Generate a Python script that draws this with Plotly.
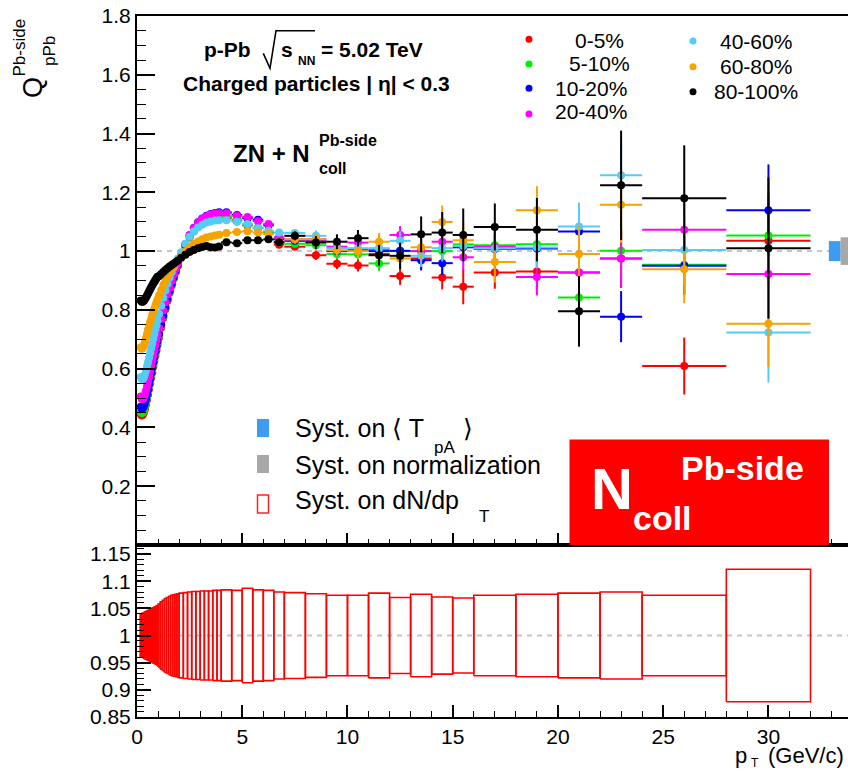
import plotly.graph_objects as go

# ---------------- data ----------------
pt_edges = [0.15, 0.2, 0.25, 0.3, 0.35, 0.4, 0.45, 0.5, 0.55, 0.6, 0.65, 0.7, 0.75, 0.8, 0.85, 0.9, 0.95, 1.0,
            1.1, 1.2, 1.3, 1.4, 1.5, 1.6, 1.7, 1.8, 1.9, 2.0,
            2.2, 2.4, 2.6, 2.8, 3.0, 3.2, 3.4, 3.6, 3.8, 4.0,
            4.5, 5.0, 5.5, 6.0, 6.5, 7.0,
            8.0, 9.0, 10.0, 11.0, 12.0, 13.0, 14.0, 15.0, 16.0,
            18.0, 20.0, 22.0, 24.0, 28.0, 32.0]

centralities = ["0-5%", "5-10%", "10-20%", "20-40%", "40-60%", "60-80%", "80-100%"]
colors = ["#ff0000", "#00ee00", "#0000ff", "#ff00ff", "#55ccf5", "#f5a300", "#000000"]

q_0_5 = [0.445, 0.441, 0.443, 0.450, 0.462, 0.477, 0.494, 0.512, 0.531, 0.550, 0.569, 0.588, 0.607, 0.626, 0.645, 0.663, 0.681,
         0.707, 0.740, 0.772, 0.802, 0.831, 0.858, 0.883, 0.907, 0.929, 0.950,
         0.980, 1.016, 1.046, 1.068, 1.084, 1.095, 1.103, 1.108, 1.111, 1.112,
         1.113, 1.102, 1.088, 1.078, 1.064, 1.022,
         1.015, 0.986, 0.957, 0.951, 0.990, 0.915, 0.975, 0.910, 0.879,
         0.927, 0.931, 0.927, 0.975, 0.609, 1.035]
q_5_10 = [0.453, 0.449, 0.451, 0.458, 0.470, 0.485, 0.502, 0.520, 0.539, 0.558, 0.577, 0.596, 0.615, 0.634, 0.652, 0.670, 0.688,
          0.713, 0.746, 0.777, 0.807, 0.835, 0.862, 0.887, 0.910, 0.932, 0.953,
          0.983, 1.019, 1.049, 1.072, 1.089, 1.101, 1.109, 1.114, 1.117, 1.118,
          1.118, 1.108, 1.092, 1.080, 1.066, 1.030,
          1.025, 1.020, 0.990, 0.989, 0.958, 1.000, 1.000, 1.000, 1.023,
          1.020, 1.023, 0.842, 1.001, 0.954, 1.053]
q_10_20 = [0.470, 0.464, 0.465, 0.471, 0.482, 0.496, 0.512, 0.529, 0.547, 0.565, 0.584, 0.603, 0.621, 0.640, 0.658, 0.676, 0.693,
           0.718, 0.750, 0.781, 0.810, 0.838, 0.864, 0.889, 0.912, 0.934, 0.955,
           0.985, 1.022, 1.054, 1.079, 1.098, 1.111, 1.120, 1.126, 1.130, 1.132,
           1.132, 1.123, 1.112, 1.107, 1.088, 1.040,
           1.035, 1.035, 1.000, 1.003, 1.000, 1.001, 0.969, 0.959, 1.013,
           1.007, 1.009, 1.067, 0.777, 0.950, 1.139]
q_20_40 = [0.505, 0.497, 0.497, 0.502, 0.512, 0.525, 0.540, 0.556, 0.573, 0.591, 0.609, 0.627, 0.645, 0.663, 0.680, 0.697, 0.714,
           0.738, 0.769, 0.798, 0.826, 0.852, 0.876, 0.899, 0.920, 0.940, 0.959,
           0.988, 1.024, 1.055, 1.079, 1.097, 1.110, 1.119, 1.125, 1.128, 1.129,
           1.129, 1.120, 1.116, 1.102, 1.092, 1.047,
           1.040, 1.040, 1.015, 1.029, 1.007, 1.055, 1.000, 1.032, 0.979,
           1.015, 0.912, 0.927, 0.975, 1.073, 0.922]
q_40_60 = [0.572, 0.565, 0.565, 0.570, 0.580, 0.593, 0.607, 0.622, 0.638, 0.654, 0.670, 0.686, 0.702, 0.718, 0.734, 0.749, 0.764,
           0.786, 0.814, 0.841, 0.866, 0.889, 0.910, 0.929, 0.946, 0.961, 0.975,
           0.996, 1.025, 1.049, 1.067, 1.080, 1.090, 1.097, 1.101, 1.104, 1.105,
           1.105, 1.100, 1.092, 1.078, 1.069, 1.063,
           1.062, 1.052, 1.010, 1.010, 1.010, 1.035, 0.984, 1.010, 1.017,
           1.009, 1.012, 1.084, 1.258, 1.004, 0.723]
q_60_80 = [0.673, 0.668, 0.670, 0.678, 0.690, 0.704, 0.718, 0.732, 0.745, 0.758, 0.770, 0.782, 0.793, 0.804, 0.815, 0.825, 0.835,
           0.850, 0.868, 0.885, 0.900, 0.914, 0.927, 0.939, 0.950, 0.960, 0.969,
           0.982, 0.998, 1.012, 1.024, 1.033, 1.040, 1.046, 1.050, 1.053, 1.056,
           1.062, 1.065, 1.068, 1.063, 1.058, 1.032,
           1.040, 1.040, 1.003, 1.000, 1.032, 0.975, 1.013, 1.099, 1.037,
           0.963, 1.139, 0.990, 1.158, 0.938, 0.753]
q_80_100 = [0.832, 0.828, 0.828, 0.831, 0.836, 0.842, 0.849, 0.856, 0.863, 0.870, 0.877, 0.884, 0.890, 0.896, 0.902, 0.908, 0.913,
            0.915, 0.922, 0.929, 0.936, 0.942, 0.948, 0.953, 0.958, 0.963, 0.968,
            0.977, 0.988, 0.997, 1.004, 1.010, 1.014, 1.017, 1.013, 1.012, 1.016,
            1.030, 1.027, 1.037, 1.037, 1.040, 1.030,
            1.052, 1.029, 1.032, 1.044, 0.986, 0.984, 1.057, 1.063, 1.055,
            1.082, 1.073, 0.795, 1.224, 1.180, 1.010]

# statistical errors: shared small values below 7 GeV/c, per-class above
stat_low = [0.002, 0.002, 0.002, 0.002, 0.002, 0.002, 0.002, 0.002, 0.002, 0.002, 0.002, 0.002, 0.002, 0.002, 0.002, 0.002, 0.002,
            0.002, 0.002, 0.002, 0.002, 0.002, 0.002, 0.002, 0.002, 0.002, 0.002,
            0.003, 0.003, 0.003, 0.003, 0.003, 0.004, 0.004, 0.004, 0.005, 0.005,
            0.006, 0.007, 0.008, 0.009, 0.010, 0.012]
stat_0_5 = [0.010, 0.016, 0.018, 0.020, 0.025, 0.030, 0.035, 0.040, 0.060, 0.055, 0.065, 0.080, 0.100, 0.097, 0.150]
stat_5_10 = [0.010, 0.015, 0.018, 0.020, 0.025, 0.030, 0.035, 0.040, 0.045, 0.050, 0.060, 0.080, 0.095, 0.100, 0.150]
stat_10_20 = [0.010, 0.015, 0.018, 0.020, 0.025, 0.030, 0.035, 0.040, 0.045, 0.050, 0.060, 0.080, 0.087, 0.100, 0.156]
stat_20_40 = [0.010, 0.015, 0.018, 0.020, 0.025, 0.030, 0.035, 0.040, 0.045, 0.050, 0.063, 0.080, 0.095, 0.110, 0.150]
stat_40_60 = [0.012, 0.018, 0.020, 0.022, 0.028, 0.032, 0.038, 0.045, 0.050, 0.055, 0.070, 0.081, 0.110, 0.120, 0.170]
stat_60_80 = [0.015, 0.020, 0.022, 0.025, 0.030, 0.035, 0.045, 0.056, 0.060, 0.070, 0.082, 0.100, 0.130, 0.115, 0.147]
stat_80_100 = [0.015, 0.022, 0.025, 0.028, 0.035, 0.045, 0.061, 0.070, 0.090, 0.080, 0.108, 0.120, 0.186, 0.180, 0.240]

# systematic uncertainty on dN/dpT (relative), one per bin
syst_dndpt = [0.040, 0.040, 0.041, 0.042, 0.043, 0.044, 0.045, 0.046, 0.047, 0.048, 0.049, 0.050, 0.051, 0.052, 0.053, 0.054, 0.055,
              0.058, 0.062, 0.065, 0.068, 0.070, 0.072, 0.074, 0.075, 0.076, 0.077,
              0.078, 0.079, 0.080, 0.081, 0.081, 0.082, 0.082, 0.082, 0.083, 0.083,
              0.084, 0.083, 0.087, 0.084, 0.083, 0.080,
              0.079, 0.077, 0.074, 0.074, 0.078, 0.070, 0.076, 0.071, 0.069,
              0.074, 0.076, 0.078, 0.080, 0.074, 0.122]
syst_tpa = 0.034
syst_norm = 0.047

series_values = [q_0_5, q_5_10, q_10_20, q_20_40, q_40_60, q_60_80, q_80_100]
series_stat = [stat_0_5, stat_5_10, stat_10_20, stat_20_40, stat_40_60, stat_60_80, stat_80_100]

# ---------------- geometry ----------------
W, H = 848, 773
L, R, T, B = 137, 848, 16, 717
SPLIT = 545
XMAX = 33.78


def px(x):
    return (x - L) / (R - L)


def py(y):
    return (B - y) / (B - T)


FONT = "Liberation Sans, Arial, Helvetica, sans-serif"

pt_lo = pt_edges[:-1]
pt_hi = pt_edges[1:]
pt_c = [(a + b) / 2 for a, b in zip(pt_lo, pt_hi)]
pt_hw = [(b - a) / 2 for a, b in zip(pt_lo, pt_hi)]

fig = go.Figure()

# systematic boxes (bottom panel)
bx, byv = [], []
for a, b, s in zip(pt_lo, pt_hi, syst_dndpt):
    bx += [a, b, b, a, a, None]
    byv += [1 - s, 1 - s, 1 + s, 1 + s, 1 - s, None]
fig.add_trace(go.Scatter(x=bx, y=byv, mode="lines", line=dict(color="#ff0000", width=1.6),
                         xaxis="x", yaxis="y", hoverinfo="skip", showlegend=False))

# data points (top panel)
for name, col, vals, st in zip(centralities, colors, series_values, series_stat):
    err = stat_low + st
    fig.add_trace(go.Scatter(
        x=pt_c, y=vals, mode="markers", name=name,
        marker=dict(color=col, size=8, line=dict(width=0)),
        error_y=dict(type="data", array=err, color=col, thickness=2, width=0),
        error_x=dict(type="data", array=pt_hw, color=col, thickness=2, width=0),
        xaxis="x2", yaxis="y2", showlegend=False))

shapes = []
# dashed unity lines
shapes.append(dict(type="line", xref="x2", yref="y2", x0=0, x1=XMAX, y0=1, y1=1, layer="below",
                   line=dict(color="#c4c4cc", width=2, dash="5px,5px")))
shapes.append(dict(type="line", xref="x", yref="y", x0=0, x1=XMAX, y0=1, y1=1, layer="below",
                   line=dict(color="#c4c4cc", width=2, dash="5px,5px")))
# global systematic boxes at right edge
shapes.append(dict(type="rect", xref="x2", yref="y2", x0=32.87, x1=33.43, y0=1 - syst_tpa, y1=1 + syst_tpa,
                   fillcolor="#3d9cf0", line=dict(width=0)))
shapes.append(dict(type="rect", xref="x2", yref="y2", x0=33.43, x1=XMAX + 0.2, y0=1 - syst_norm, y1=1 + syst_norm,
                   fillcolor="#a8a8a8", line=dict(width=0)))
# legend squares
shapes.append(dict(type="rect", xref="paper", yref="paper", x0=px(257), x1=px(269), y0=py(437), y1=py(419),
                   fillcolor="#3d9cf0", line=dict(width=0)))
shapes.append(dict(type="rect", xref="paper", yref="paper", x0=px(257), x1=px(269), y0=py(473), y1=py(455),
                   fillcolor="#a8a8a8", line=dict(width=0)))
shapes.append(dict(type="rect", xref="paper", yref="paper", x0=px(257.5), x1=px(268.5), y0=py(513), y1=py(495),
                   fillcolor="rgba(0,0,0,0)", line=dict(color="#ff2020", width=1.5)))
# red box
shapes.append(dict(type="rect", xref="paper", yref="paper", x0=px(569.5), x1=px(829), y0=py(545), y1=py(439.5),
                   fillcolor="#ff0000", line=dict(width=0)))
# sqrt sign
pts = [(263.3, 53.3), (270, 68.3), (276, 30.7), (315, 30.7)]
path = "M " + " L ".join(f"{px(a):.5f},{py(b):.5f}" for a, b in pts)
shapes.append(dict(type="path", xref="paper", yref="paper", path=path, line=dict(color="black", width=1.6)))
# centrality legend markers
leg_marks = [(529, 39.3), (529, 64), (529, 88.3), (529, 114), (693, 41), (693, 66.7), (693, 91.7)]
for (mx, my), col in zip(leg_marks, colors):
    shapes.append(dict(type="circle", xref="paper", yref="paper", xsizemode="pixel", ysizemode="pixel",
                       xanchor=px(mx), yanchor=py(my), x0=-3.5, x1=3.5, y0=-3.5, y1=3.5,
                       fillcolor=col, line=dict(width=0)))

ann = []


def text(t, x, y, size, xanchor="left", bold=False, color="black", angle=0):
    if bold:
        t = "<b>" + t + "</b>"
    ann.append(dict(text=t, x=px(x), y=py(y), xref="paper", yref="paper", xanchor=xanchor, yanchor="middle",
                    showarrow=False, textangle=angle, font=dict(family=FONT, size=size, color=color)))


# header texts
text("p-Pb", 201.7, 50, 21, bold=True)
text("s", 278.5, 50, 21, bold=True)
text("NN", 295.5, 60.5, 12, bold=True)
text("= 5.02 TeV", 319, 50, 21, bold=True)
text("Charged particles | η| < 0.3", 180.7, 84, 21, bold=True)
text("ZN + N", 230.5, 153, 24, bold=True)
text("Pb-side", 317, 140, 16, bold=True)
text("coll", 317, 168.5, 16, bold=True)

# centrality legend labels
leg_text = [(572.7, 40), (566.7, 63.3), (553, 88.3), (553, 111.7), (718, 41.7), (718, 66.7), (711.7, 91.7)]
for (tx, ty), name in zip(leg_text, centralities):
    text(name, tx, ty, 21)

# systematics legend
text("Syst. on ⟨ T", 293, 428, 25)
text("pA", 432, 447, 17)
text("⟩", 461, 428, 25)
text("Syst. on normalization", 293, 465, 25)
text("Syst. on dN/dp", 293, 500, 25)
text("T", 477, 516, 17)

# red box text
text("N", 589, 488, 58, bold=True, color="white")
text("coll", 631, 518, 34, bold=True, color="white")
text("Pb-side", 679, 468, 34, bold=True, color="white")

# axis titles
text("Q", 33, 88, 27, xanchor="center", angle=-90)
text("Pb-side", 19, 47.5, 17, xanchor="center", angle=-90)
text("pPb", 49, 51, 17, xanchor="center", angle=-90)
text("p", 733, 755, 22)
text("T", 749, 763, 12)
text("(GeV/c)", 766, 756, 22)

y_split = py(SPLIT)
tickfont = dict(family=FONT, size=21, color="black")

fig.update_layout(
    width=W, height=H,
    margin=dict(l=L, r=W - R, t=T, b=H - B, pad=0),
    paper_bgcolor="white", plot_bgcolor="white",
    showlegend=False,
    shapes=shapes, annotations=ann,
    xaxis=dict(domain=[0, 1], range=[0, XMAX], anchor="y",
               tickmode="array", tickvals=[0, 5, 10, 15, 20, 25, 30], ticks="inside", ticklen=12, tickwidth=1.5,
               tickcolor="black",
               minor=dict(tickmode="linear", tick0=0, dtick=1, ticks="inside", ticklen=6, tickwidth=1.2,
                          tickcolor="black"),
               showline=True, linecolor="black", linewidth=2, mirror=True,
               showgrid=False, zeroline=False, tickfont=tickfont),
    yaxis=dict(domain=[0, y_split], range=[0.85, 1.1666], anchor="x",
               tickmode="array", tickvals=[0.85, 0.9, 0.95, 1.0, 1.05, 1.1, 1.15],
               ticktext=["0.85", "0.9", "0.95", "1", "1.05", "1.1", "1.15"],
               ticks="inside", ticklen=14, tickwidth=1.5, tickcolor="black",
               minor=dict(tickmode="linear", tick0=0.85, dtick=0.01, ticks="inside", ticklen=7, tickwidth=1.2,
                          tickcolor="black"),
               showline=True, linecolor="black", linewidth=2, mirror=False,
               showgrid=False, zeroline=False, tickfont=tickfont),
    xaxis2=dict(domain=[0, 1], range=[0, XMAX], anchor="y2", matches="x", showticklabels=False,
                tickmode="array", tickvals=[0, 5, 10, 15, 20, 25, 30], ticks="inside", ticklen=12, tickwidth=1.5,
                tickcolor="black",
                minor=dict(tickmode="linear", tick0=0, dtick=1, ticks="inside", ticklen=6, tickwidth=1.2,
                           tickcolor="black"),
                showline=True, linecolor="black", linewidth=2, mirror=True,
                showgrid=False, zeroline=False),
    yaxis2=dict(domain=[y_split, 1], range=[0, 1.8], anchor="x2",
                tickmode="array", tickvals=[0.2, 0.4, 0.6, 0.8, 1.0, 1.2, 1.4, 1.6, 1.8],
                ticktext=["0.2", "0.4", "0.6", "0.8", "1", "1.2", "1.4", "1.6", "1.8"],
                ticks="inside", ticklen=18, tickwidth=1.5, tickcolor="black",
                minor=dict(tickmode="linear", tick0=0, dtick=0.05, ticks="inside", ticklen=9, tickwidth=1.2,
                           tickcolor="black"),
                showline=True, linecolor="black", linewidth=2, mirror=False,
                showgrid=False, zeroline=False, tickfont=tickfont),
)

fig.write_html("out.html")
